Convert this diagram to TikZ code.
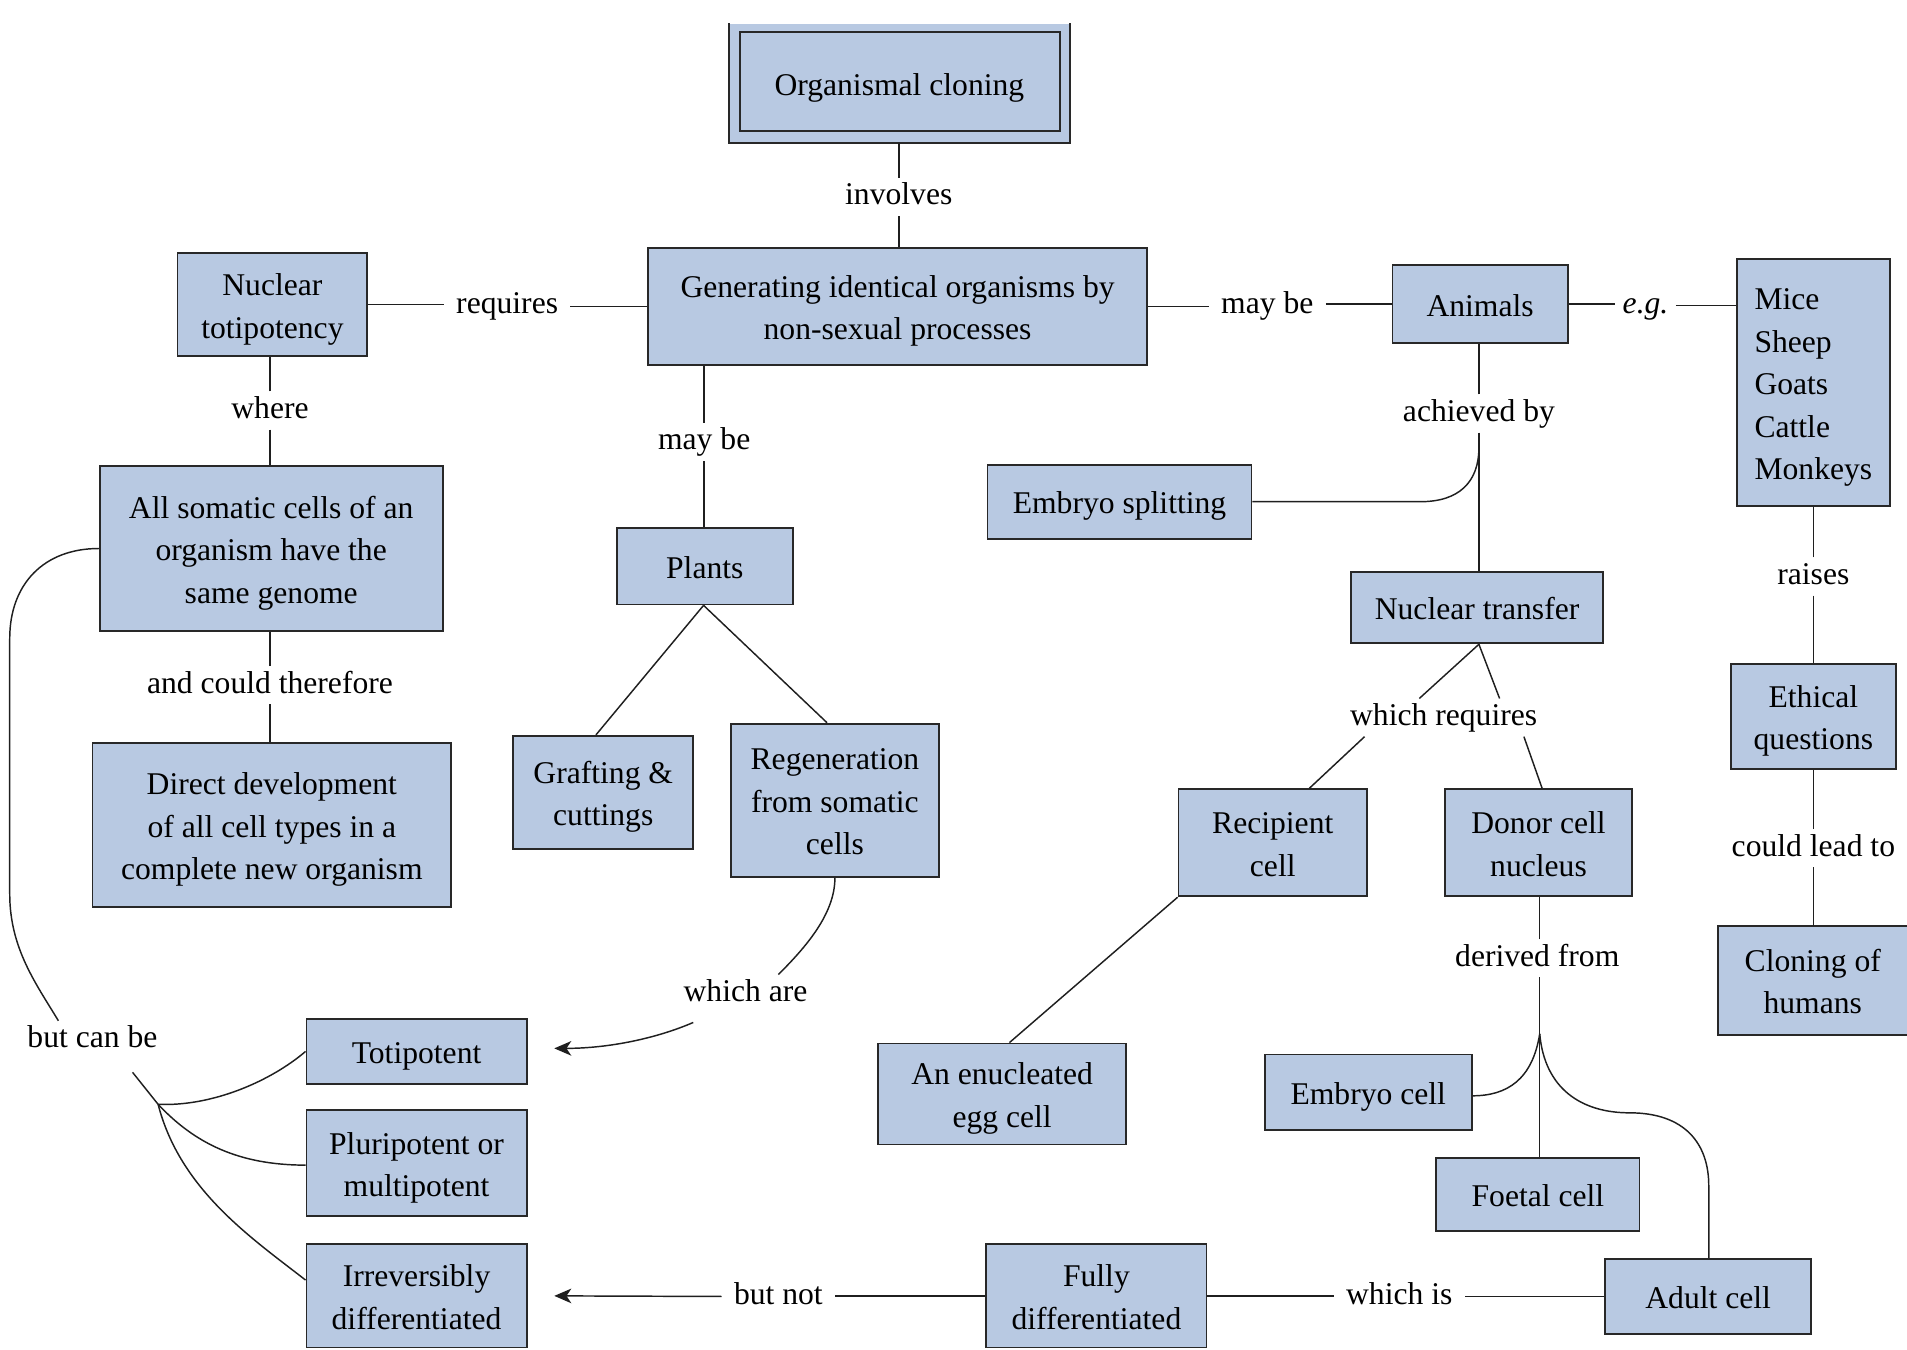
\documentclass[tikz,border=0pt]{standalone}
\usepackage{fontspec}
\setmainfont{Liberation Serif}
\usetikzlibrary{arrows.meta,calc}
\definecolor{boxfill}{RGB}{184,201,226}
\definecolor{boxline}{RGB}{40,40,40}
% struts for the 35pt line spacing: \ls opens the first line, \lend closes the last
\newcommand{\ls}{\rule[-10.5pt]{0pt}{41pt}}
\newcommand{\lend}{\rule[-10.5pt]{0pt}{35pt}}
\tikzset{
  concept/.style={fill=boxfill, draw=boxline, line width=1.5pt, inner sep=0pt,
    align=center, font=\fontsize{26}{35}\selectfont,
    execute at end node=\lend},
  boxborder/.style={draw=boxline, line width=1.5pt},
  sz/.style 2 args={minimum width=#1pt, minimum height=#2pt},
  link/.style={inner xsep=10pt, inner ysep=4pt, text height=18pt, text depth=5pt,
    font=\fontsize{26}{35}\selectfont},
  conn/.style={draw=black!88, line width=1.2pt},
  tip/.style={-{Stealth[length=14pt,width=12pt,inset=4pt]}},
}
\begin{document}
\begin{tikzpicture}[x=1pt,y=-1pt]
\useasboundingbox (0,0) rectangle (1568,1110);
\clip (0,0) rectangle (1568,1110);

% ---- concept boxes ----
\node[concept, draw=none, sz={279}{97}] (org) at (739.5,68.5) {\ls Organismal cloning};
\draw[boxborder] (org.north west) -- (org.south west) -- (org.south east) -- (org.north east);
\draw[boxborder] ([shift={(9pt,-7pt)}]org.north west) rectangle ([shift={(-8pt,10pt)}]org.south east);

\node[concept, sz={410}{96}] (gen) at (738,252) {\ls Generating identical organisms by\\non-sexual processes};
\node[concept, sz={156}{85}] (nuc) at (224,250.5) {\ls Nuclear\\totipotency};
\node[concept, sz={282}{136}] (all) at (223,451) {\ls All somatic cells of an\\organism have the\\same genome};
\node[concept, sz={295}{135}] (dir) at (223.5,678.5) {\ls Direct development\\of all cell types in a\\complete new organism};
\node[concept, sz={145}{63}] (plants) at (579.5,465.5) {\ls Plants};
\node[concept, sz={148}{93}] (graft) at (496,651.5) {\ls Grafting \&\\cuttings};
\node[concept, sz={171}{126}] (regen) at (686.5,658) {\ls Regeneration\\from somatic\\cells};
\node[concept, sz={181}{53}] (toti) at (342.5,864.5) {\ls Totipotent};
\node[concept, sz={181}{87}] (pluri) at (342.5,956.5) {\ls Pluripotent or\\multipotent};
\node[concept, sz={181}{85}] (irrev) at (342.5,1065.5) {\ls Irreversibly\\differentiated};
\node[concept, sz={144}{64}] (animals) at (1217,250) {\ls Animals};
\node[concept, sz={126}{203}, align=left] (mice) at (1491,314.5) {\ls Mice\\Sheep\\Goats\\Cattle\\Monkeys};
\node[concept, sz={136}{86}] (ethic) at (1491,589) {\ls Ethical\\questions};
\node[concept, draw=none, sz={155}{88}] (human) at (1490.5,806) {\ls Cloning of\\humans};
\draw[boxborder] (human.north east) -- (human.north west) -- (human.south west) -- (human.south east);
\node[concept, sz={217}{61}] (split) at (920.5,412.5) {\ls Embryo splitting};
\node[concept, sz={207}{59}] (ntrans) at (1214.5,499.5) {\ls Nuclear transfer};
\node[concept, sz={155}{88}] (recip) at (1046.5,693) {\ls Recipient\\cell};
\node[concept, sz={154}{88}] (donor) at (1265,693) {\ls Donor cell\\nucleus};
\node[concept, sz={204}{83}] (egg) at (824,899.5) {\ls An enucleated\\egg cell};
\node[concept, sz={170}{62}] (ecell) at (1125,898) {\ls Embryo cell};
\node[concept, sz={167}{60}] (fcell) at (1264.5,982) {\ls Foetal cell};
\node[concept, sz={169}{62}] (acell) at (1404.5,1066) {\ls Adult cell};
\node[concept, sz={181}{85}] (fully) at (901.5,1065.5) {\ls Fully\\differentiated};

% ---- linking phrases ----
\node[link] (lInv) at (739,162) {involves};
\node[link] (lReq) at (417,251.5) {requires};
\node[link] (lWhere) at (222,337.5) {where};
\node[link] (lThere) at (222,563.5) {and could therefore};
\node[link] (lMay1) at (579,363.5) {may be};
\node[link] (lMay2) at (1042,251.5) {may be};
\node[link, inner xsep=6pt] (lEg) at (1353,251) {\textit{e.g.}};
\node[link] (lAch) at (1216,340) {achieved by};
\node[link] (lRaise) at (1491,474) {raises};
\node[link] (lLead) at (1491,697.5) {could lead to};
\node[link] (lWReq) at (1187,590) {which requires};
\node[link] (lDer) at (1264,788) {derived from};
\node[link] (lIs) at (1150.5,1066) {which is};
\node[link] (lNot) at (640,1066) {but not};
\node[link] (lAre) at (613,817) {which are};
\node[link] (lBut) at (76,855) {but can be};

% ---- connectors ----
\draw[conn] (lInv.north) -- (lInv.north |- org.south);
\draw[conn] (lInv.south) -- (lInv.south |- gen.north);
\draw[conn] (nuc.east) -- (nuc.east -| lReq.west);
\draw[conn] (lReq.east |- gen.west) -- (gen.west);
\draw[conn] (lWhere.north) -- (lWhere.north |- nuc.south);
\draw[conn] (lWhere.south) -- (lWhere.south |- all.north);
\draw[conn] (lThere.north) -- (lThere.north |- all.south);
\draw[conn] (lThere.south) -- (lThere.south |- dir.north);
\draw[conn] (lMay1.north) -- (lMay1.north |- gen.south);
\draw[conn] (lMay1.south) -- (lMay1.south |- plants.north);
\draw[conn] ([xshift=-1pt]plants.south) -- ([xshift=-6pt]graft.north);
\draw[conn] ([xshift=-1pt]plants.south) -- ([xshift=-6.5pt]regen.north);
\draw[conn] (gen.east) -- (gen.east -| lMay2.west);
\draw[conn] (lMay2.east |- animals.west) -- (animals.west);
\draw[conn] (animals.east) -- (animals.east -| lEg.west);
\draw[conn] (lEg.east) -- (lEg.east -| mice.west);
\draw[conn] (lAch.north) -- (lAch.north |- animals.south);
\draw[conn] (lAch.south) -- (lAch.south |- ntrans.north);
\coordinate (bend) at (1168,412.5);
\coordinate (rise) at (1216,368);
\draw[conn] (split.east) -- (bend) .. controls +(32,0) and +(0,28) .. (rise);
\draw[conn] (lRaise.north) -- (lRaise.north |- mice.south);
\draw[conn] (lRaise.south) -- (lRaise.south |- ethic.north);
\draw[conn] (lLead.north) -- (lLead.north |- ethic.south);
\draw[conn] (lLead.south) -- (lLead.south |- human.north);
\draw[conn] ([xshift=1.5pt]ntrans.south) -- ([xshift=-20pt]lWReq.north);
\draw[conn] ([xshift=1.5pt]ntrans.south) -- ([xshift=46pt]lWReq.north);
\draw[conn] ([xshift=-65pt]lWReq.south) -- ([xshift=30pt]recip.north);
\draw[conn] ([xshift=66pt]lWReq.south) -- ([xshift=3pt]donor.north);
\draw[conn] (recip.south west) -- ([xshift=6pt]egg.north);
\coordinate (jDer) at (1266,850);
\draw[conn] (jDer |- lDer.north) -- (jDer |- donor.south);
\draw[conn] (jDer |- lDer.south) -- (jDer);
\draw[conn] (jDer) -- (jDer |- fcell.north);
\draw[conn] (jDer) .. controls +(-6,38) and +(28,0) .. ([yshift=-3pt]ecell.east);
\coordinate (aMid) at (1340,915);
\coordinate (aLow) at (1405,975);
\draw[conn] (jDer) .. controls +(4,45) and +(-40,0) .. (aMid)
  .. controls +(45,0) and +(0,-35) .. (aLow) -- (aLow |- acell.north);
\draw[conn] (acell.west) -- (acell.west -| lIs.east);
\draw[conn] (fully.east) -- (fully.east -| lIs.west);
\draw[conn] (fully.west) -- (fully.west -| lNot.east);
\draw[conn, tip] (lNot.west) -- ([xshift=22pt]irrev.east);
\draw[conn] (regen.south) .. controls +(0,30) and +(22,-22) .. ([xshift=27pt]lAre.north);
\draw[conn, tip] ([xshift=-43pt,yshift=-8pt]lAre.south) .. controls +(-30,13) and +(45,0) .. ([xshift=22pt,yshift=2.5pt]toti.east);
\coordinate (loopTop) at (8,525);
\coordinate (loopBot) at (8,735);
\draw[conn] (all.west) .. controls +(-45,0) and +(0,-45) .. (loopTop) -- (loopBot)
  .. controls +(0,45) and +(-18,-30) .. ([xshift=-28pt]lBut.north);
\coordinate (jBut) at (130,908);
\draw[conn] ([xshift=33pt,yshift=-11pt]lBut.south) -- (jBut);
\draw[conn] (jBut) .. controls +(45,2) and +(-28,24) .. (toti.west);
\draw[conn] (jBut) .. controls +(30,32) and +(-55,0) .. ([yshift=-1.5pt]pluri.west);
\draw[conn] (jBut) .. controls +(18,70) and +(-45,-35) .. ([yshift=13pt]irrev.west);
\end{tikzpicture}
\end{document}
